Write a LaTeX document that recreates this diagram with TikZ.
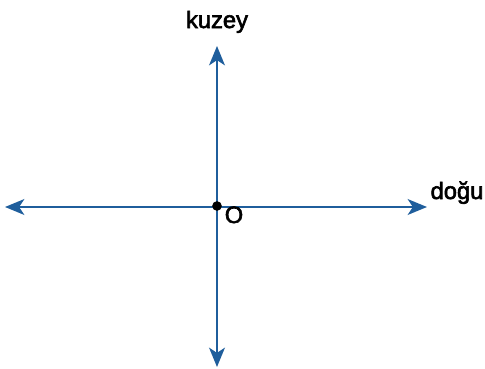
\documentclass[tikz,border=0pt]{standalone}
\usepackage{fontspec}
\setmainfont{Liberation Sans}
\newfontfamily\lblfont[FakeBold=2.5]{Liberation Sans}
\usetikzlibrary{arrows.meta}

\begin{document}
\begin{tikzpicture}[
  x=0.02cm, y=-0.02cm,
  axis/.style={{Stealth[length=11pt, width=9pt, inset=3pt]}-{Stealth[length=11pt, width=9pt, inset=3pt]},
               line width=1.4pt, draw=axisblue},
  lbl/.style={font=\lblfont\fontsize{13.5}{15}\selectfont, anchor=base, inner sep=0pt},
  dot/.style={circle, fill=black, inner sep=0pt, minimum size=5.5pt}
]
\definecolor{axisblue}{HTML}{1F5E9C}
\useasboundingbox (0,0) rectangle (485,369);

\coordinate (north) at (217,46);
\coordinate (south) at (217,367);
\coordinate (west)  at (5,207);
\coordinate (east)  at (427,207);

\draw[axis] (south) -- (north);
\draw[axis] (west) -- (east);

\node[dot] (origin) at (217,206) {};
\node[lbl] (kuzey) at (217,28)  {kuzey};
\node[lbl] (dogu)  at (457,199) {doğu};
\node[lbl] (olbl)  at (234,223) {O};
\end{tikzpicture}
\end{document}
